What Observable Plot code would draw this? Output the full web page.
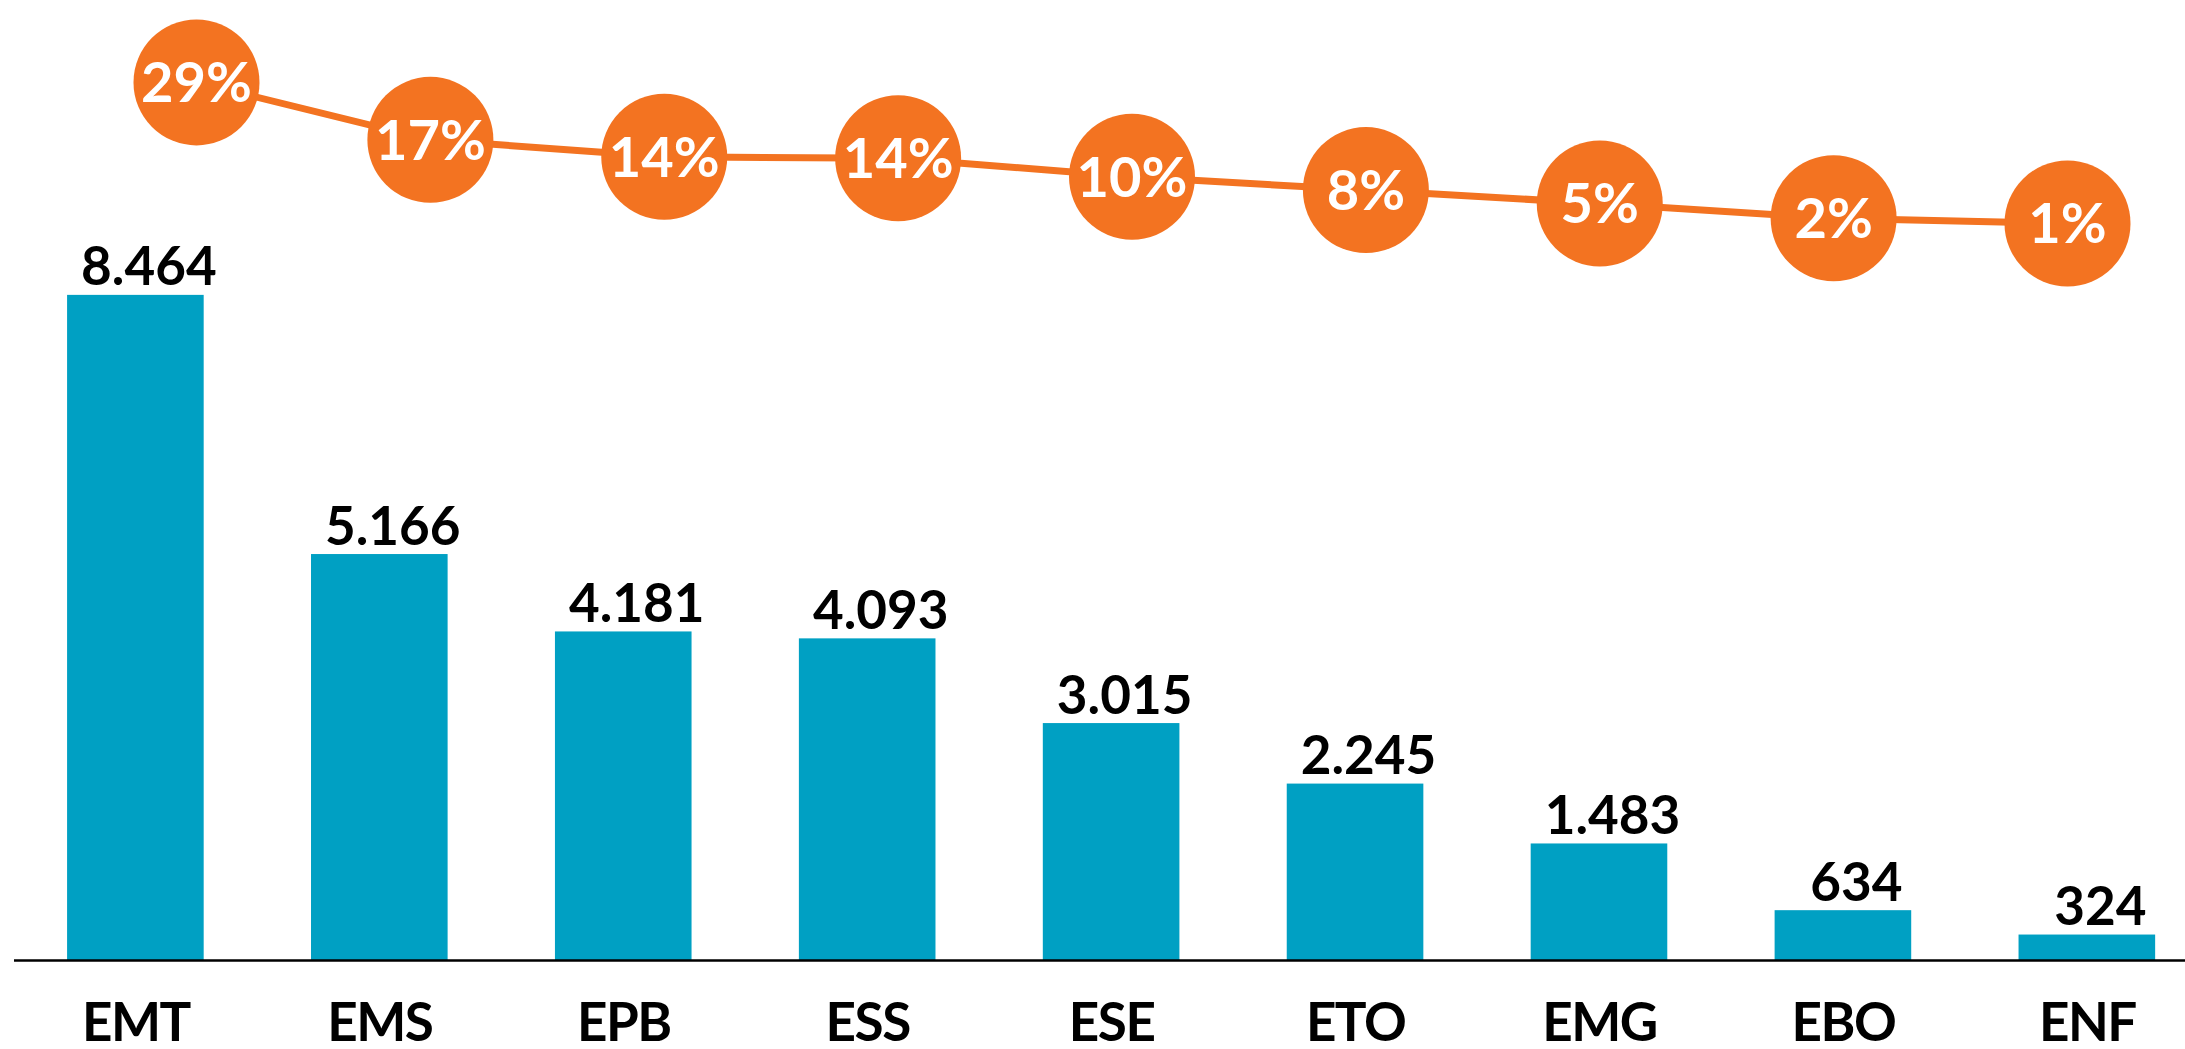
<!DOCTYPE html>
<html>
<head>
<meta charset="utf-8">
<script src="https://cdn.jsdelivr.net/npm/d3@7"></script>
<script src="https://cdn.jsdelivr.net/npm/@observablehq/plot@0.6"></script>
<style>
  html, body { margin: 0; padding: 0; background: #fff; }
  #wrap { position: relative; width: 2185px; height: 1049px; }
  #wrap svg { position: absolute; left: 0; top: 0; overflow: visible; }
</style>
</head>
<body>
<div id="wrap"></div>
<script>
const categories = ["EMT", "EMS", "EPB", "ESS", "ESE", "ETO", "EMG", "EBO", "ENF"];
const counts = [8464, 5166, 4181, 4093, 3015, 2245, 1483, 634, 324];
const countLabels = ["8.464", "5.166", "4.181", "4.093", "3.015", "2.245", "1.483", "634", "324"];
const shares = [28.6, 17.4, 14.1, 13.8, 10.2, 7.6, 5.0, 2.1, 1.1];
const shareLabels = ["29%", "17%", "14%", "14%", "10%", "8%", "5%", "2%", "1%"];

const bars = categories.map((c, i) => ({cat: c, value: counts[i], label: countLabels[i]}));
const pts = categories.map((c, i) => ({cat: c, share: shares[i], label: shareLabels[i]}));

const BLUE = "#00A0C3";
const ORANGE = "#F37321";
const FONT = "Lato, 'Open Sans', sans-serif";

const barChart = Plot.plot({
  width: 2185,
  height: 1049,
  marginTop: 17,
  marginBottom: 89,
  marginLeft: 14,
  marginRight: 0,
  style: {fontFamily: FONT, background: "transparent"},
  x: {domain: categories, paddingInner: 0.44, paddingOuter: 0.17, align: 0.64, round: false, label: null},
  y: {domain: [0, 12000], axis: null},
  marks: [
    Plot.barY(bars, {x: "cat", y: "value", fill: BLUE}),
    Plot.text(bars, {x: "cat", y: "value", text: "label", dy: -10, dx: 13, lineAnchor: "bottom",
      fontSize: 53, fontWeight: "bold", fill: "#000", style: "letter-spacing:5px"}),
    Plot.ruleY([0], {stroke: "#000", strokeWidth: 2.5}),
    Plot.axisX({tickSize: 0, tickPadding: 43, fontSize: 53, fontWeight: "bold", fill: "#000", label: null})
  ]
});
barChart.querySelectorAll("g[aria-label='x-axis tick label']").forEach(el => {
  el.setAttribute("font-weight", "bold");
  el.setAttribute("fill", "#000");
  el.setAttribute("letter-spacing", "-1.5");
});

const lineChart = Plot.plot({
  width: 2185,
  height: 300,
  marginTop: 74.7,
  marginBottom: 71.4,
  marginLeft: 196,
  marginRight: 118,
  style: {fontFamily: FONT, background: "transparent"},
  x: {type: "point", domain: categories, padding: 0, round: false, axis: null},
  y: {domain: [0, 30], axis: null},
  marks: [
    Plot.line(pts, {x: "cat", y: "share", stroke: ORANGE, strokeWidth: 7}),
    Plot.dot(pts, {x: "cat", y: "share", r: 63, fill: ORANGE, stroke: "none"}),
    Plot.text(pts, {x: "cat", y: "share", text: "label", fill: "#fff", fontSize: 56,
      fontWeight: "bold", lineAnchor: "middle", dy: 2, style: "letter-spacing:-2px"})
  ]
});

const wrap = document.getElementById("wrap");
wrap.appendChild(barChart);
wrap.appendChild(lineChart);
</script>
</body>
</html>
